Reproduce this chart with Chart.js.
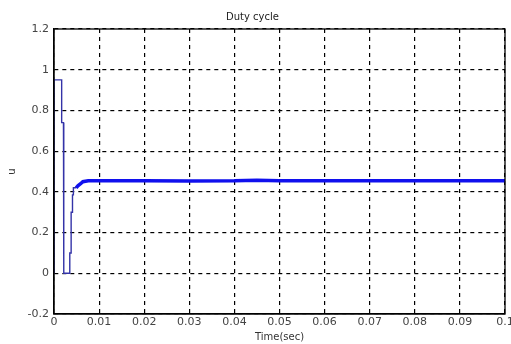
<!DOCTYPE html>
<html>
<head>
<meta charset="utf-8">
<script src="https://cdn.jsdelivr.net/npm/chart.js@4/dist/chart.umd.min.js"></script>
<style>
    html, body { margin: 0; padding: 0; background: #fff; }
    #wrap { width: 511px; height: 344px; }
</style>
</head>
<body>
<div id="wrap"><canvas id="duty" width="511" height="344"></canvas></div>
<script>
// 时间刻度和纵轴刻度
const xTickLabels = ['0', '0.01', '0.02', '0.03', '0.04', '0.05', '0.06', '0.07', '0.08', '0.09', '0.1'];
const yTickLabels = ['-0.2', '0', '0.2', '0.4', '0.6', '0.8', '1', '1.2'];

// 起动过程 (细线)
const startTime = [0, 0, 0.0017, 0.0017, 0.0021, 0.0021, 0.0022, 0.0022, 0.0035, 0.0035, 0.0038, 0.0038, 0.0041, 0.0041, 0.0043, 0.0043, 0.0049];
const startDuty = [0, 0.95, 0.95, 0.74, 0.74, 0.21, 0.21, 0, 0, 0.1, 0.1, 0.3, 0.3, 0.385, 0.385, 0.42, 0.42];

// 稳态 (粗线)
const steadyTime = [0.0049, 0.0053, 0.0059, 0.0064, 0.0076, 0.01, 0.02, 0.03, 0.04, 0.045, 0.05, 0.06, 0.07, 0.08, 0.09, 0.1];
const steadyDuty = [0.42, 0.43, 0.44, 0.45, 0.455, 0.455, 0.454, 0.453, 0.454, 0.457, 0.454, 0.454, 0.455, 0.455, 0.455, 0.455];

const toPoints = (xs, ys) => xs.map((x, i) => ({x: x, y: ys[i]}));

const FONT = 'DejaVu Sans';

// 画外框 (上边和右边)
const frameBox = {
    id: 'frameBox',
    afterDatasetsDraw(chart) {
        const a = chart.chartArea;
        const ctx = chart.ctx;
        ctx.save();
        ctx.strokeStyle = '#000';
        ctx.lineWidth = 1.3;
        ctx.strokeRect(a.left, a.top, a.right - a.left, a.bottom - a.top);
        ctx.restore();
    }
};

const dutyCtx = document.getElementById('duty').getContext('2d');
const dutyChart = new Chart(dutyCtx, {
    type: 'line',
    data: {
        datasets: [{
            label: 'start',
            data: toPoints(startTime, startDuty),
            borderColor: '#3434a8',
            borderWidth: 1.4,
            pointRadius: 0,
            fill: false,
            tension: 0
        }, {
            label: 'steady',
            data: toPoints(steadyTime, steadyDuty),
            borderColor: '#1010ee',
            borderWidth: 3.5,
            pointRadius: 0,
            fill: false,
            tension: 0
        }]
    },
    options: {
        responsive: false,
        animation: false,
        layout: { padding: { left: 0, right: 6, top: 0, bottom: 0 } },
        plugins: {
            legend: { display: false },
            tooltip: { enabled: false },
            title: {
                display: true,
                text: 'Duty cycle',
                color: '#222',
                font: { family: FONT, size: 10, weight: 'normal' },
                padding: { top: 11, bottom: 6 }
            }
        },
        scales: {
            x: {
                type: 'linear',
                min: 0,
                max: 0.1,
                ticks: {
                    stepSize: 0.01,
                    color: '#444',
                    font: { family: FONT, size: 11 },
                    padding: 2,
                    maxRotation: 0,
                    autoSkip: false,
                    callback: (v, i) => xTickLabels[i]
                },
                grid: { color: '#000', lineWidth: 1.2, drawTicks: false },
                border: { display: true, color: '#000', width: 1.3, dash: [4, 4] },
                title: {
                    display: true,
                    text: 'Time(sec)',
                    color: '#333',
                    font: { family: FONT, size: 10 },
                    padding: { top: 0, bottom: 1 }
                },
                afterFit: (scale) => {
                    scale.height = 30;
                    scale.paddingLeft = 0;
                    scale.paddingRight = 0;
                }
            },
            y: {
                min: -0.2,
                max: 1.2,
                ticks: {
                    stepSize: 0.2,
                    color: '#444',
                    font: { family: FONT, size: 11 },
                    padding: 5,
                    autoSkip: false,
                    callback: (v, i) => yTickLabels[i]
                },
                grid: { color: '#000', lineWidth: 1.2, drawTicks: false },
                border: { display: true, color: '#000', width: 1.3, dash: [4, 4] },
                title: {
                    display: true,
                    text: 'u',
                    color: '#333',
                    font: { family: FONT, size: 10 },
                    padding: { top: 6, bottom: 0 }
                },
                afterFit: (scale) => {
                    scale.width = 54;
                    scale.paddingTop = 0;
                    scale.paddingBottom = 0;
                }
            }
        }
    },
    plugins: [frameBox]
});
</script>
</body>
</html>
